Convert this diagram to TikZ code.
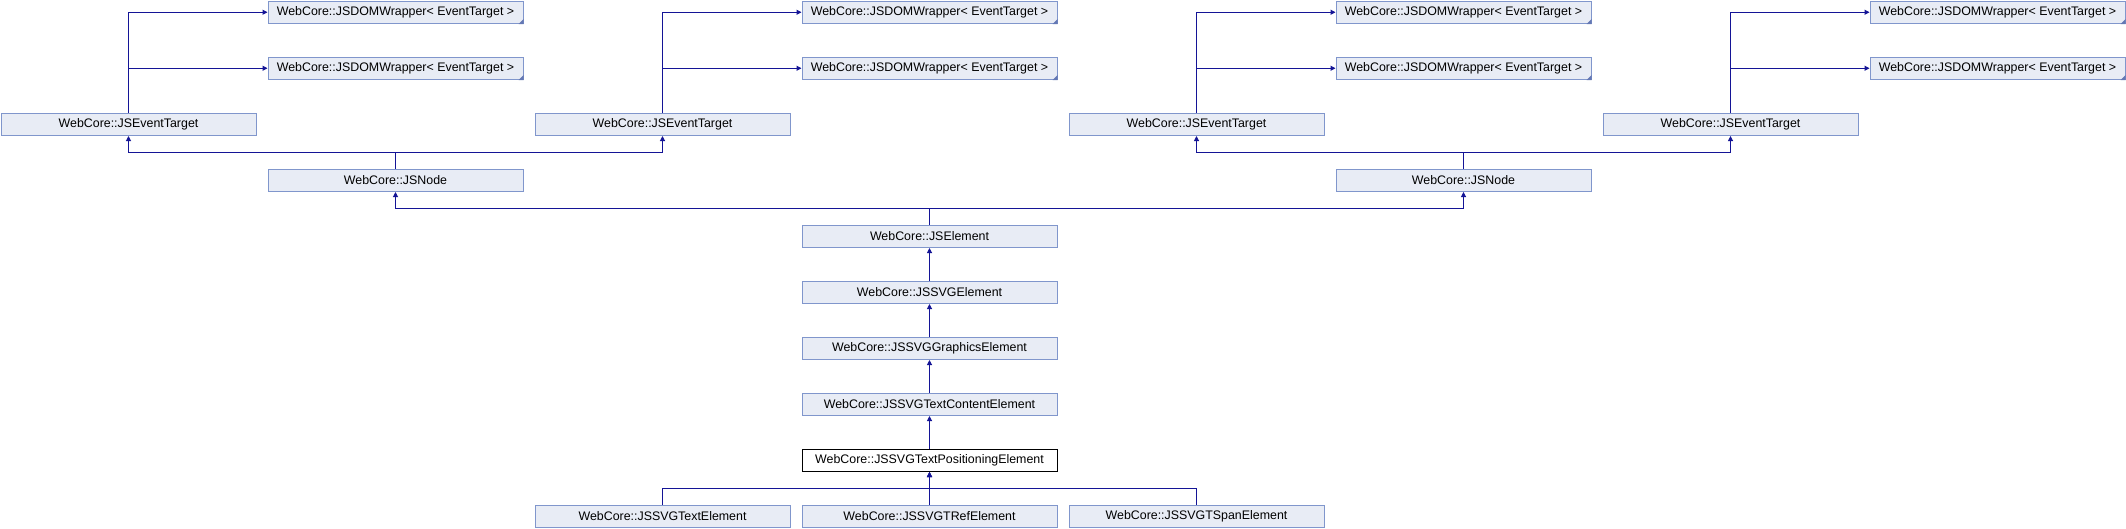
\documentclass[tikz,border=0pt]{standalone}
\usepackage{fontspec}
\setmainfont{Liberation Sans}
\usetikzlibrary{arrows.meta}
\definecolor{boxfill}{RGB}{232,236,245}
\definecolor{boxline}{RGB}{128,150,204}
\definecolor{conncol}{RGB}{20,20,150}
\definecolor{cornercol}{RGB}{100,120,180}
\tikzset{
  cls/.style={draw=boxline, fill=boxfill, line width=1pt, minimum width=255pt, minimum height=22.5pt,
    inner sep=0pt, anchor=north west, font=\fontsize{12.4pt}{14pt}\selectfont},
  curcls/.style={cls, draw=black, fill=white},
  conn/.style={draw=conncol, line width=1pt, -{Triangle[length=5pt,width=5pt]}},
  corner/.style={fill=cornercol},
}
\begin{document}
\begin{tikzpicture}[x=1pt,y=-1pt]
\useasboundingbox[fill=white] (0,0) rectangle (2126,528);
% wrappers rows 0 and 1
\foreach \c/\n in {1/a,3/b,5/c,7/d}{
  \node[cls] (wt\n) at ({267*\c+0.5},0.5) {WebCore::JSDOMWrapper< EventTarget >};
  \node[cls] (wb\n) at ({267*\c+0.5},56.5) {WebCore::JSDOMWrapper< EventTarget >};
  \fill[corner] (wt\n.south east) -- ++(-5,0) -- ++(5,-5) -- cycle;
  \fill[corner] (wb\n.south east) -- ++(-5,0) -- ++(5,-5) -- cycle;
}
% event targets
\foreach \c/\n in {0/a,2/b,4/c,6/d}{
  \node[cls] (e\n) at ({267*\c+0.5},112.5) {WebCore::JSEventTarget};
}
\node[cls] (n1) at (267.5,168.5) {WebCore::JSNode};
\node[cls] (n2) at (1335.5,168.5) {WebCore::JSNode};
\node[cls] (el) at (801.5,224.5) {WebCore::JSElement};
\node[cls] (svg) at (801.5,280.5) {WebCore::JSSVGElement};
\node[cls] (gr) at (801.5,336.5) {WebCore::JSSVGGraphicsElement};
\node[cls] (tc) at (801.5,392.5) {WebCore::JSSVGTextContentElement};
\node[curcls] (tp) at (801.5,448.5) {WebCore::JSSVGTextPositioningElement};
\node[cls] (te) at (534.5,504.5) {WebCore::JSSVGTextElement};
\node[cls] (tr) at (801.5,504.5) {WebCore::JSSVGTRefElement};
\node[cls] (ts) at (1068.5,504.5) {WebCore::JSSVGTSpanElement};
% connectors event target -> wrappers
\foreach \n in {a,b,c,d}{
  \draw[conn] (e\n.north) |- (wt\n.west);
  \draw[conn] (e\n.north) |- (wb\n.west);
}
\draw[conn] (n1.north) -- ++(0,-16) -| (ea.south);
\draw[conn] (n1.north) -- ++(0,-16) -| (eb.south);
\draw[conn] (n2.north) -- ++(0,-16) -| (ec.south);
\draw[conn] (n2.north) -- ++(0,-16) -| (ed.south);
\draw[conn] (el.north) -- ++(0,-16) -| (n1.south);
\draw[conn] (el.north) -- ++(0,-16) -| (n2.south);
\draw[conn] (svg.north) -- (el.south);
\draw[conn] (gr.north) -- (svg.south);
\draw[conn] (tc.north) -- (gr.south);
\draw[conn] (tp.north) -- (tc.south);
\draw[conn] (te.north) -- ++(0,-16) -| (tp.south);
\draw[conn] (tr.north) -- (tp.south);
\draw[conn] (ts.north) -- ++(0,-16) -| (tp.south);
\end{tikzpicture}
\end{document}
